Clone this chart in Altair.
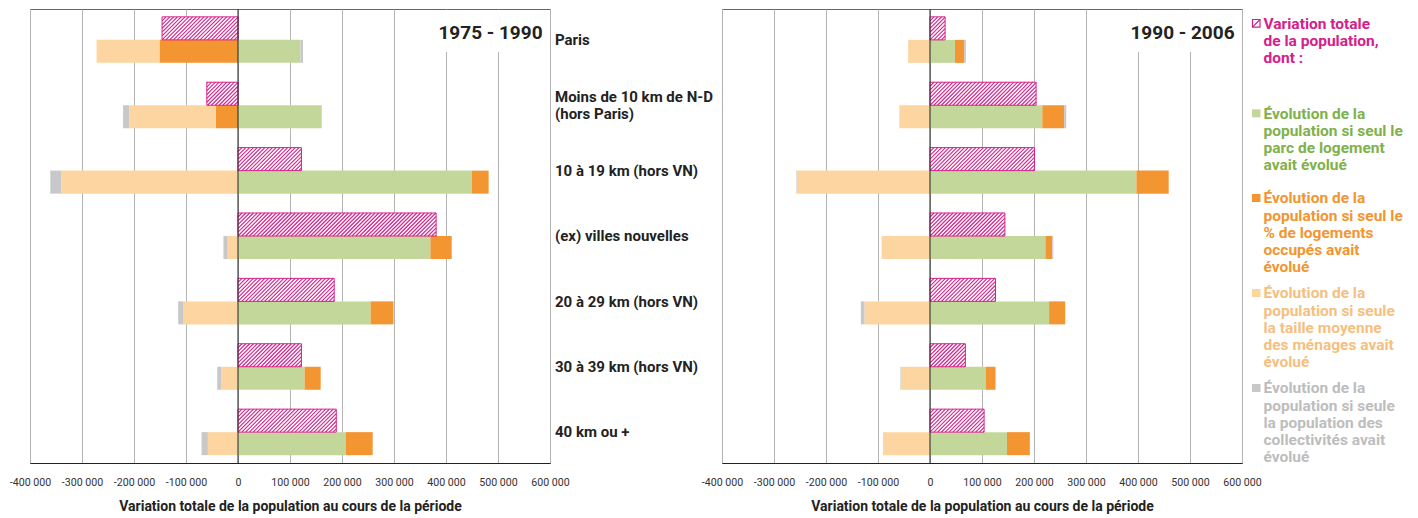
import math
import altair as alt
import pandas as pd

# ---------------- data ----------------
categories = [
    "Paris",
    "Moins de 10 km de N-D\n(hors Paris)",
    "10 à 19 km (hors VN)",
    "(ex) villes nouvelles",
    "20 à 29 km (hors VN)",
    "30 à 39 km (hors VN)",
    "40 km ou +",
]
components = ["parc", "occupes", "taille", "collectivites"]

# 1975 - 1990
total_7590 = [-146000, -60000, 122000, 381000, 185000, 122000, 189000]
parc_7590 = [120000, 161000, 450000, 370000, 255000, 128000, 207000]
occup_7590 = [-151000, -43000, 32000, 41000, 44000, 31000, 52000]
taille_7590 = [-121000, -166000, -340000, -20000, -105000, -32000, -58000]
collec_7590 = [5000, -12000, -21000, -8000, -10000, -8000, -12000]

# 1990 - 2006
total_9006 = [29000, 204000, 201000, 144000, 126000, 68000, 104000]
parc_9006 = [48000, 216000, 397000, 222000, 229000, 107000, 148000]
occup_9006 = [18000, 42000, 62000, 13000, 31000, 19000, 44000]
taille_9006 = [-42000, -59000, -256000, -93000, -126000, -56000, -89000]
collec_9006 = [3000, 4000, -1000, 2000, -7000, -1000, -1000]

tick_values = [-400000, -300000, -200000, -100000, 0, 100000, 200000, 300000, 400000, 500000, 600000]
x_title = "Variation totale de la population au cours de la période"

legend_texts = [
    "Variation totale\nde la population,\ndont :",
    "Évolution de la\npopulation si seul le\nparc de logement\navait évolué",
    "Évolution de la\npopulation si seul le\n% de logements\noccupés avait\névolué",
    "Évolution de la\npopulation si seule\nla taille moyenne\ndes ménages avait\névolué",
    "Évolution de la\npopulation si seule\nla population des\ncollectivités avait\névolué",
]

# ---------------- style / layout ----------------
FONT = "Roboto, 'Liberation Sans', sans-serif"
MAG = "#d4208c"
COMP_COLORS = ["#c4d79b", "#f39530", "#fcd5a0", "#c8c8ca"]
TEXT_COLORS = [MAG, "#80b14c", "#f39530", "#f5c07f", "#bdbdbd"]

W, H = 520, 454
N = len(categories)
PAD_IN, PAD_OUT = 0.296, 0.12
TOTAL_U = N - PAD_IN + 2 * PAD_OUT      # y extent in "category steps"
HB = (1 - PAD_IN) / 2                   # height of one sub-bar in steps
PXY = H / TOTAL_U                       # px per step
PX = W / 1_000_000.0                    # px per inhabitant
HATCH_P = 3.8                           # hatch period along x (px)

label_expr_x = ("datum.value == 0 ? '0' : (datum.value < 0 ? '-' : '') + "
                "format(abs(datum.value) / 1000, 'd') + ' 000'")

X_SCALE = alt.Scale(domain=[-400000, 600000], nice=False, zero=False)
Y_SCALE = alt.Scale(domain=[0, TOTAL_U], reverse=True, nice=False, zero=False)
X_AXIS = alt.Axis(values=tick_values, labelExpr=label_expr_x, grid=True,
                  gridColor="#b4b4b4", gridWidth=1, domainColor="#222", domainWidth=1.2,
                  ticks=False, labelPadding=14, labelFont=FONT, labelFontSize=10.6,
                  labelColor="#333", labelFlush=False,
                  titleFont=FONT, titleFontSize=14, titleFontWeight="bold",
                  titleColor="#222", titlePadding=12)


def xq(field):
    return alt.X(field, scale=X_SCALE, axis=X_AXIS, title=x_title)


def yq(field):
    return alt.Y(field, scale=Y_SCALE, axis=None)


def hatch_lines(totals):
    """'/' hatch segments clipped to each total bar (data units)."""
    h = HB * PXY
    rows = []
    for i, v in enumerate(totals):
        xlo, xhi = min(0, v) * PX, max(0, v) * PX
        kmin = int(math.floor((xlo - h) / HATCH_P))
        kmax = int(math.ceil(xhi / HATCH_P))
        bottom = i + PAD_OUT + HB
        for k in range(kmin, kmax + 1):
            c = k * HATCH_P
            xs = max(c, xlo)
            ws = xs - c
            if ws >= h:
                continue
            xe = min(c + h, xhi)
            we = xe - c
            if xe <= xs + 0.05:
                continue
            rows.append({"idx": i, "xs": xs / PX, "xe": xe / PX,
                         "ys": bottom - ws / PXY, "ye": bottom - we / PXY})
    return pd.DataFrame(rows)


def panel(totals, parc, occup, taille, collec, period, show_labels, show_legend):
    vals = [parc, occup, taille, collec]
    comp_rows = []
    for i in range(N):
        for j, comp in enumerate(components):
            comp_rows.append({"idx": i, "comp": comp, "value": vals[j][i], "ord": j})
    comp_df = pd.DataFrame(comp_rows)
    tot_df = pd.DataFrame({"idx": list(range(N)), "value": totals})

    # stacked components (positive and negative stacked separately)
    bars = (
        alt.Chart(comp_df)
        .transform_stack(stack="value", groupby=["idx"], as_=["v0", "v1"],
                         sort=[alt.SortField("ord", order="ascending")], offset="zero")
        .transform_calculate(ya=f"datum.idx + {PAD_OUT + HB}", yb=f"datum.idx + {PAD_OUT + 2 * HB}")
        .mark_bar()
        .encode(
            x=xq("v0:Q"), x2="v1:Q",
            y=yq("ya:Q"), y2="yb:Q",
            color=alt.Color("comp:N", scale=alt.Scale(domain=components, range=COMP_COLORS),
                            legend=None),
        )
    )

    tot_base = alt.Chart(tot_df).transform_calculate(
        ya=f"datum.idx + {PAD_OUT}", yb=f"datum.idx + {PAD_OUT + HB}")
    tot_enc = dict(x=xq("value:Q"), x2=alt.datum(0), y=yq("ya:Q"), y2="yb:Q")
    tot_fill = tot_base.mark_bar(fill="white", strokeWidth=0).encode(**tot_enc)
    tot_line = tot_base.mark_bar(fill="white", fillOpacity=0, stroke=MAG,
                                 strokeWidth=1).encode(**tot_enc)

    hatch = alt.Chart(hatch_lines(totals)).mark_rule(color=MAG, strokeWidth=1.1).encode(
        x=xq("xs:Q"), x2="xe:Q", y=yq("ys:Q"), y2="ye:Q")

    zero = alt.Chart(pd.DataFrame({"z": [0]})).mark_rule(color="#222", strokeWidth=1).encode(
        x=xq("z:Q"))

    one = pd.DataFrame({"t": [period]})
    box = alt.Chart(one).mark_rect(color="white").encode(
        x=alt.value(405), x2=alt.value(518), y=alt.value(1), y2=alt.value(43))
    title = alt.Chart(one).mark_text(font=FONT, fontSize=19, fontWeight="bold", color="#222",
                                     align="center", baseline="middle").encode(
        x=alt.value(460.5), y=alt.value(24), text="t:N")

    layers = [bars, box, tot_fill, hatch, tot_line, zero, title]

    if show_labels:
        lab_df = pd.DataFrame({"idx": list(range(N)), "cat": categories,
                               "nl": [c.count("\n") + 1 for c in categories]})
        labels = (
            alt.Chart(lab_df)
            .transform_calculate(
                yl=f"datum.idx + {PAD_OUT + HB} + (5.3 - 8.5 * (datum.nl - 1)) / {PXY}")
            .mark_text(font=FONT, fontSize=15, fontWeight="bold", color="#222",
                       align="left", baseline="alphabetic", lineBreak="\n", lineHeight=17)
            .encode(x=alt.value(W + 5), y=yq("yl:Q"), text="cat:N")
        )
        layers.append(labels)

    if show_legend:
        text_y = [19.7, 109.7, 194.4, 289.4, 384.4]
        mark_y = [14.3, 104.3, 189.0, 284.0, 379.0]
        for k, txt in enumerate(legend_texts):
            d = pd.DataFrame({"t": [txt]})
            layers.append(
                alt.Chart(d).mark_text(font=FONT, fontSize=15.5, fontWeight="bold",
                                       color=TEXT_COLORS[k], align="left",
                                       baseline="alphabetic", lineBreak="\n",
                                       lineHeight=17.2).encode(
                    x=alt.value(541.5), y=alt.value(text_y[k]), text="t:N"))
            if k == 0:
                layers.append(alt.Chart(d).mark_rect(fill="white", stroke=MAG, strokeWidth=1.2).encode(
                    x=alt.value(530.5), x2=alt.value(538.0),
                    y=alt.value(mark_y[k] - 3.8), y2=alt.value(mark_y[k] + 3.8)))
                layers.append(alt.Chart(d).mark_rule(color=MAG, strokeWidth=1.2).encode(
                    x=alt.value(530.5), x2=alt.value(538.0),
                    y=alt.value(mark_y[k] + 3.8), y2=alt.value(mark_y[k] - 3.8)))
            else:
                layers.append(alt.Chart(d).mark_rect(color=COMP_COLORS[k - 1]).encode(
                    x=alt.value(530.0), x2=alt.value(538.5),
                    y=alt.value(mark_y[k] - 4), y2=alt.value(mark_y[k] + 4)))

    return alt.layer(*layers).properties(width=W, height=H)


left = panel(total_7590, parc_7590, occup_7590, taille_7590, collec_7590, "1975 - 1990", True, False)
right = panel(total_9006, parc_9006, occup_9006, taille_9006, collec_9006, "1990 - 2006", False, True)

chart = alt.hconcat(left, right, spacing=172, bounds="flush").resolve_scale(
    color="shared").configure_view(stroke="#666", strokeWidth=1).properties(
    padding={"left": 0, "top": 0, "right": 0, "bottom": 0})

chart.save("out.html", embed_options={"renderer": "svg", "actions": False})
